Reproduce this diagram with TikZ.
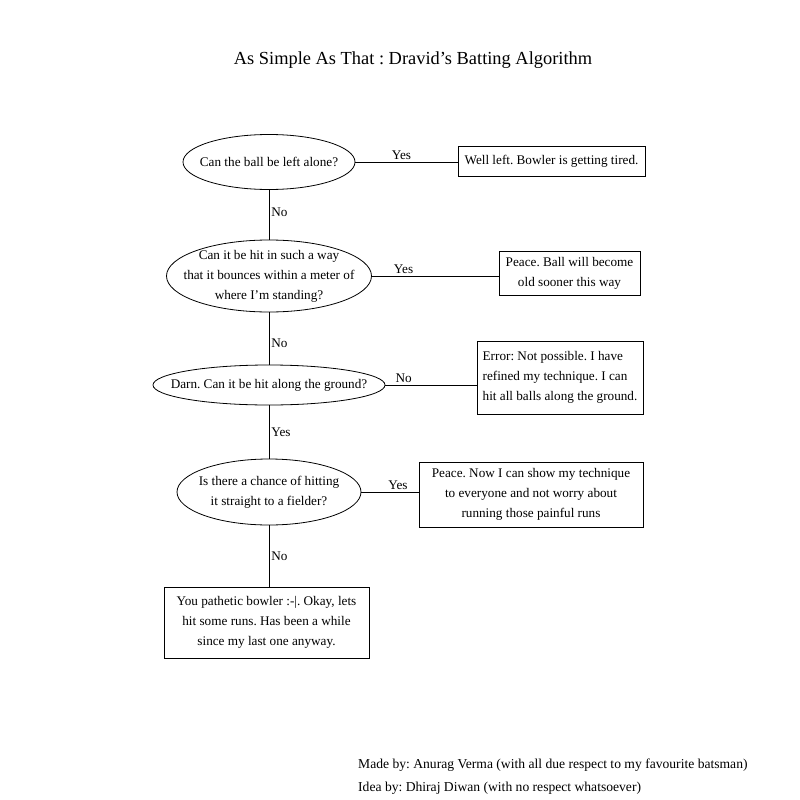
\documentclass[tikz,border=0pt]{standalone}
\usepackage{fontspec}
\setmainfont{Liberation Serif}
\usetikzlibrary{shapes.geometric}
\begin{document}
\frenchspacing
\begin{tikzpicture}[x=1pt,y=-1pt,
  every node/.style={font=\fontsize{13.2}{20}\selectfont},
  q/.style={ellipse,draw,line width=0.8pt,inner sep=0pt},
  ans/.style={rectangle,draw,line width=0.8pt,inner sep=0pt,align=center},
  conn/.style={line width=0.8pt},
  lab/.style={inner sep=2pt},
  foot/.style={anchor=west,inner sep=0pt,font=\fontsize{13.6}{20}\selectfont}]
\useasboundingbox (0,0) rectangle (800,800);
\node (title) at (413,60) {\fontsize{18.4}{20}\selectfont As Simple As That : Dravid's Batting Algorithm};

\node[q,minimum width=172pt,minimum height=55pt,label={[align=center]center:Can the ball be left alone?}] (q1) at (269,162) {};
\node[ans,minimum width=187pt,minimum height=30pt] (a1) at (551.5,161) {Well left. Bowler is getting tired.};

\node[q,minimum width=205pt,minimum height=72pt,label={[align=center]center:Can it be hit in such a way\\that it bounces within a meter of\\where I'm standing?}] (q2) at (269,276) {};
\node[ans,minimum width=141pt,minimum height=44pt] (a2) at (569.5,273) {Peace. Ball will become\\old sooner this way};

\node[q,minimum width=232pt,minimum height=40pt,label={[align=center]center:Darn. Can it be hit along the ground?}] (q3) at (269,385) {};
\node[ans,minimum width=166pt,minimum height=73pt,align=left] (a3) at (560,377.5) {Error: Not possible. I have\\refined my technique. I can\\hit all balls along the ground.};

\node[q,minimum width=184pt,minimum height=66pt,label={[align=center]center:Is there a chance of hitting\\it straight to a fielder?}] (q4) at (269,492) {};
\node[ans,minimum width=224pt,minimum height=65pt] (a4) at (531,494.5) {Peace. Now I can show my technique\\to everyone and not worry about\\running those painful runs};

\node[ans,minimum width=205pt,minimum height=71pt] (a5) at (266.5,622.5) {You pathetic bowler :-|. Okay, lets\\hit some runs. Has been a while\\since my last one anyway.};

\draw[conn] (q1.east) -- node[pos=0.45,above,lab] {Yes} (q1.east -| a1.west);
\draw[conn] (q2.east) -- node[pos=0.25,above,lab] {Yes} (q2.east -| a2.west);
\draw[conn] (q3.east) -- node[pos=0.2,above,lab] {No} (q3.east -| a3.west);
\draw[conn] (q4.east) -- node[pos=0.64,above,lab] {Yes} (q4.east -| a4.west);

\draw[conn] (q1.south) -- node[pos=0.45,right,lab] {No} (q2.north);
\draw[conn] (q2.south) -- node[pos=0.6,right,lab] {No} (q3.north);
\draw[conn] (q3.south) -- node[pos=0.5,right,lab] {Yes} (q4.north);
\draw[conn] (q4.south) -- node[pos=0.5,right,lab] {No} (q4.south |- a5.north);

\node[foot] (f1) at (358,765) {Made by: Anurag Verma (with all due respect to my favourite batsman)};
\node[foot] (f2) at (358,788) {Idea by: Dhiraj Diwan (with no respect whatsoever)};
\end{tikzpicture}
\end{document}
